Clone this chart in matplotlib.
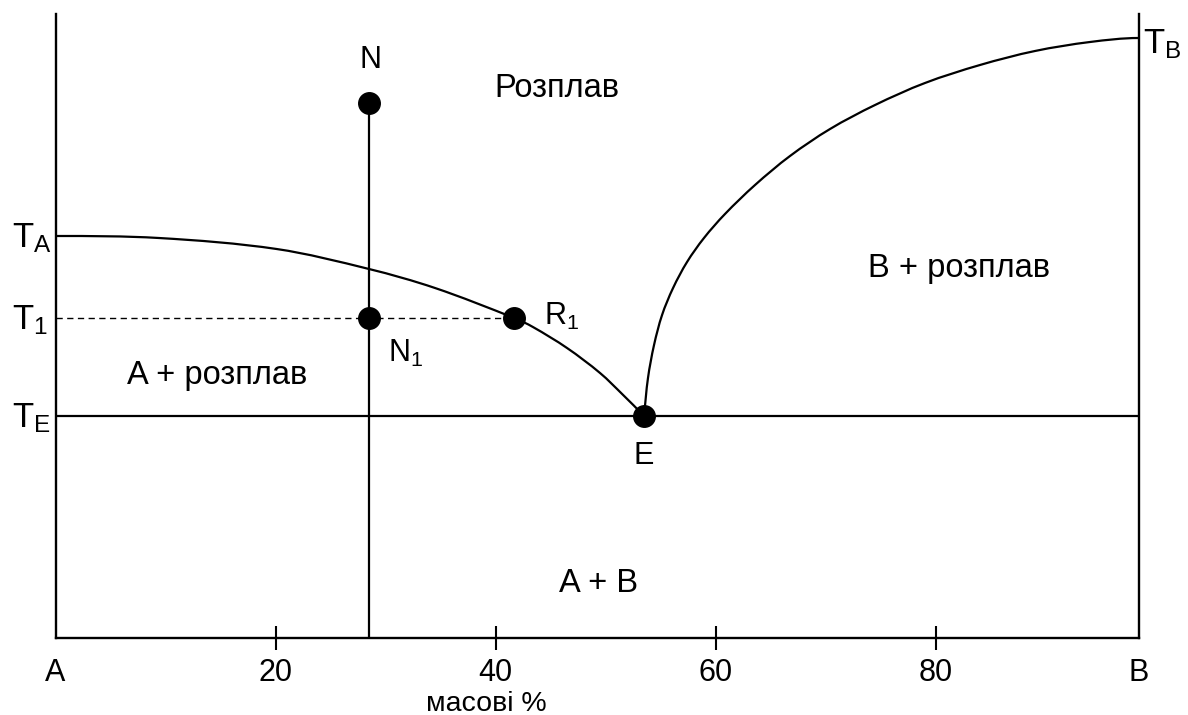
import numpy as np
import matplotlib
matplotlib.use("Agg")
import matplotlib.pyplot as plt
import matplotlib.transforms as mtransforms
from matplotlib.path import Path
from matplotlib.patches import PathPatch

plt.rcParams['font.family'] = ['Liberation Sans', 'DejaVu Sans']
plt.rcParams['mathtext.default'] = 'regular'

# composition axis runs from pure A (0) to pure B
x_B = 98.45
tick_pos = [20, 40, 60, 80]
tick_labels = ['20', '40', '60', '80']

# characteristic temperatures (arbitrary units)
T_A = 402
T_B = 600
T_1 = 320
T_E = 222
T_top = 624

# liquidus of A (from T_A down to the eutectic)
liqA_x = [0, 9.4, 20.1, 28.5, 34.5, 41.7, 43.4, 46.5, 49.5, 51.6, 53.5]
liqA_y = [402, 400, 389, 369, 350, 320, 311, 290, 265, 243, 222]

# liquidus of B (from the eutectic up to T_B)
liqB_x = [53.5, 53.86, 54.41, 55.14, 56.14, 57.41, 58.95, 60.86, 63.59, 66.77,
          70.41, 74.5, 79.04, 84.04, 89.04, 94.04, 98.45]
liqB_y = [222, 260, 293, 323, 350, 376, 400, 424, 453, 482,
          509, 533, 555, 573, 587, 596, 600]

# melt composition and special points
x_N = 28.5
y_N = 535
x_R1 = 41.7
x_E = 53.5

# screen pixels per data unit, used so the curve is smoothed in a square space
sx, sy = 1083 / x_B, 1.0


def smooth_path(xs, ys, t0=None, t1=None):
    # chord-length Hermite spline through the points, as cubic Bezier pieces
    p = np.column_stack([np.asarray(xs) * sx, np.asarray(ys) * sy]).astype(float)
    d = np.linalg.norm(np.diff(p, axis=0), axis=1)
    m = np.zeros_like(p)
    m[1:-1] = (p[2:] - p[:-2]) / (d[1:] + d[:-1])[:, None]
    m[0] = 2 * (p[1] - p[0]) / d[0] - m[1]
    m[-1] = 2 * (p[-1] - p[-2]) / d[-1] - m[-2]
    if t0 is not None:
        m[0] = np.asarray(t0, float) / np.linalg.norm(t0)
    if t1 is not None:
        m[-1] = np.asarray(t1, float) / np.linalg.norm(t1)
    verts = [p[0]]
    codes = [Path.MOVETO]
    for i in range(len(p) - 1):
        verts += [p[i] + m[i] * d[i] / 3, p[i + 1] - m[i + 1] * d[i] / 3, p[i + 1]]
        codes += [Path.CURVE4] * 3
    verts = np.array(verts) / [sx, sy]
    return Path(verts, codes)


fig = plt.figure(figsize=(11.88, 7.15), dpi=100)
ax = fig.add_axes([55.5 / 1188, 77 / 715, 1083 / 1188, 624 / 715])
ax.set_xlim(0, x_B)
ax.set_ylim(0, T_top)

lw = 1.6
ax.add_patch(PathPatch(smooth_path(liqA_x, liqA_y, t0=(1, 0)),
                       facecolor='none', edgecolor='k', lw=lw))
ax.add_patch(PathPatch(smooth_path(liqB_x, liqB_y, t0=(0.1, 1), t1=(1, 0)),
                       facecolor='none', edgecolor='k', lw=lw))
ax.plot([0, x_B], [T_E, T_E], color='k', lw=lw)
ax.plot([x_N, x_N], [0, y_N], color='k', lw=lw)
ax.plot([0, x_R1], [T_1, T_1], color='k', lw=1.0, dashes=(4.5, 3.2))

ax.plot([x_N, x_N, x_R1, x_E], [y_N, T_1, T_1, T_E], linestyle='none',
        marker='o', markersize=15.5, color='k', zorder=5)

# frame: left, right and bottom only
for side in ['left', 'right', 'bottom']:
    ax.spines[side].set_linewidth(1.7)
ax.spines['top'].set_visible(False)
ax.set_yticks([])
ax.set_xticks(tick_pos)
ax.set_xticklabels(tick_labels)
ax.tick_params(axis='x', direction='inout', length=17, width=1.5,
               labelsize=22, pad=6)

fs = 22
lab = mtransforms.blended_transform_factory(ax.transData, ax.transAxes)
ax.text(0, -0.056, 'A', transform=lab, ha='center', va='center', fontsize=fs)
ax.text(x_B, -0.056, 'B', transform=lab, ha='center', va='center', fontsize=fs)
ax.text(39.2, -0.117, 'масові %', transform=lab, ha='center', va='baseline',
        fontsize=20.5)

# temperature labels outside the frame
fs_T = 25
for name, yv in [('T_A', T_A), ('T_1', T_1), ('T_E', T_E)]:
    ax.text(-3.95, yv - 2, '$' + name + '$', ha='left', va='center',
            fontsize=fs_T, clip_on=False)
ax.text(98.85, T_B - 6, '$T_B$', ha='left', va='center', fontsize=fs_T,
        clip_on=False)

# point and region labels
ax.text(28.6, 578, 'N', ha='center', va='center', fontsize=fs)
ax.text(30.2, 285, '$N_1$', ha='left', va='center', fontsize=fs)
ax.text(44.4, 322, '$R_1$', ha='left', va='center', fontsize=fs)
ax.text(53.5, 182, 'E', ha='center', va='center', fontsize=fs)
fs_r = 23.5
ax.text(45.6, 550, 'Розплав', ha='center', va='center', fontsize=fs_r)
ax.text(14.7, 263, 'A + розплав', ha='center', va='center', fontsize=fs_r)
ax.text(82.1, 370, 'B + розплав', ha='center', va='center', fontsize=fs_r)
ax.text(49.4, 55, 'A + B', ha='center', va='center', fontsize=fs_r)

fig.savefig('out.png', dpi=100)
